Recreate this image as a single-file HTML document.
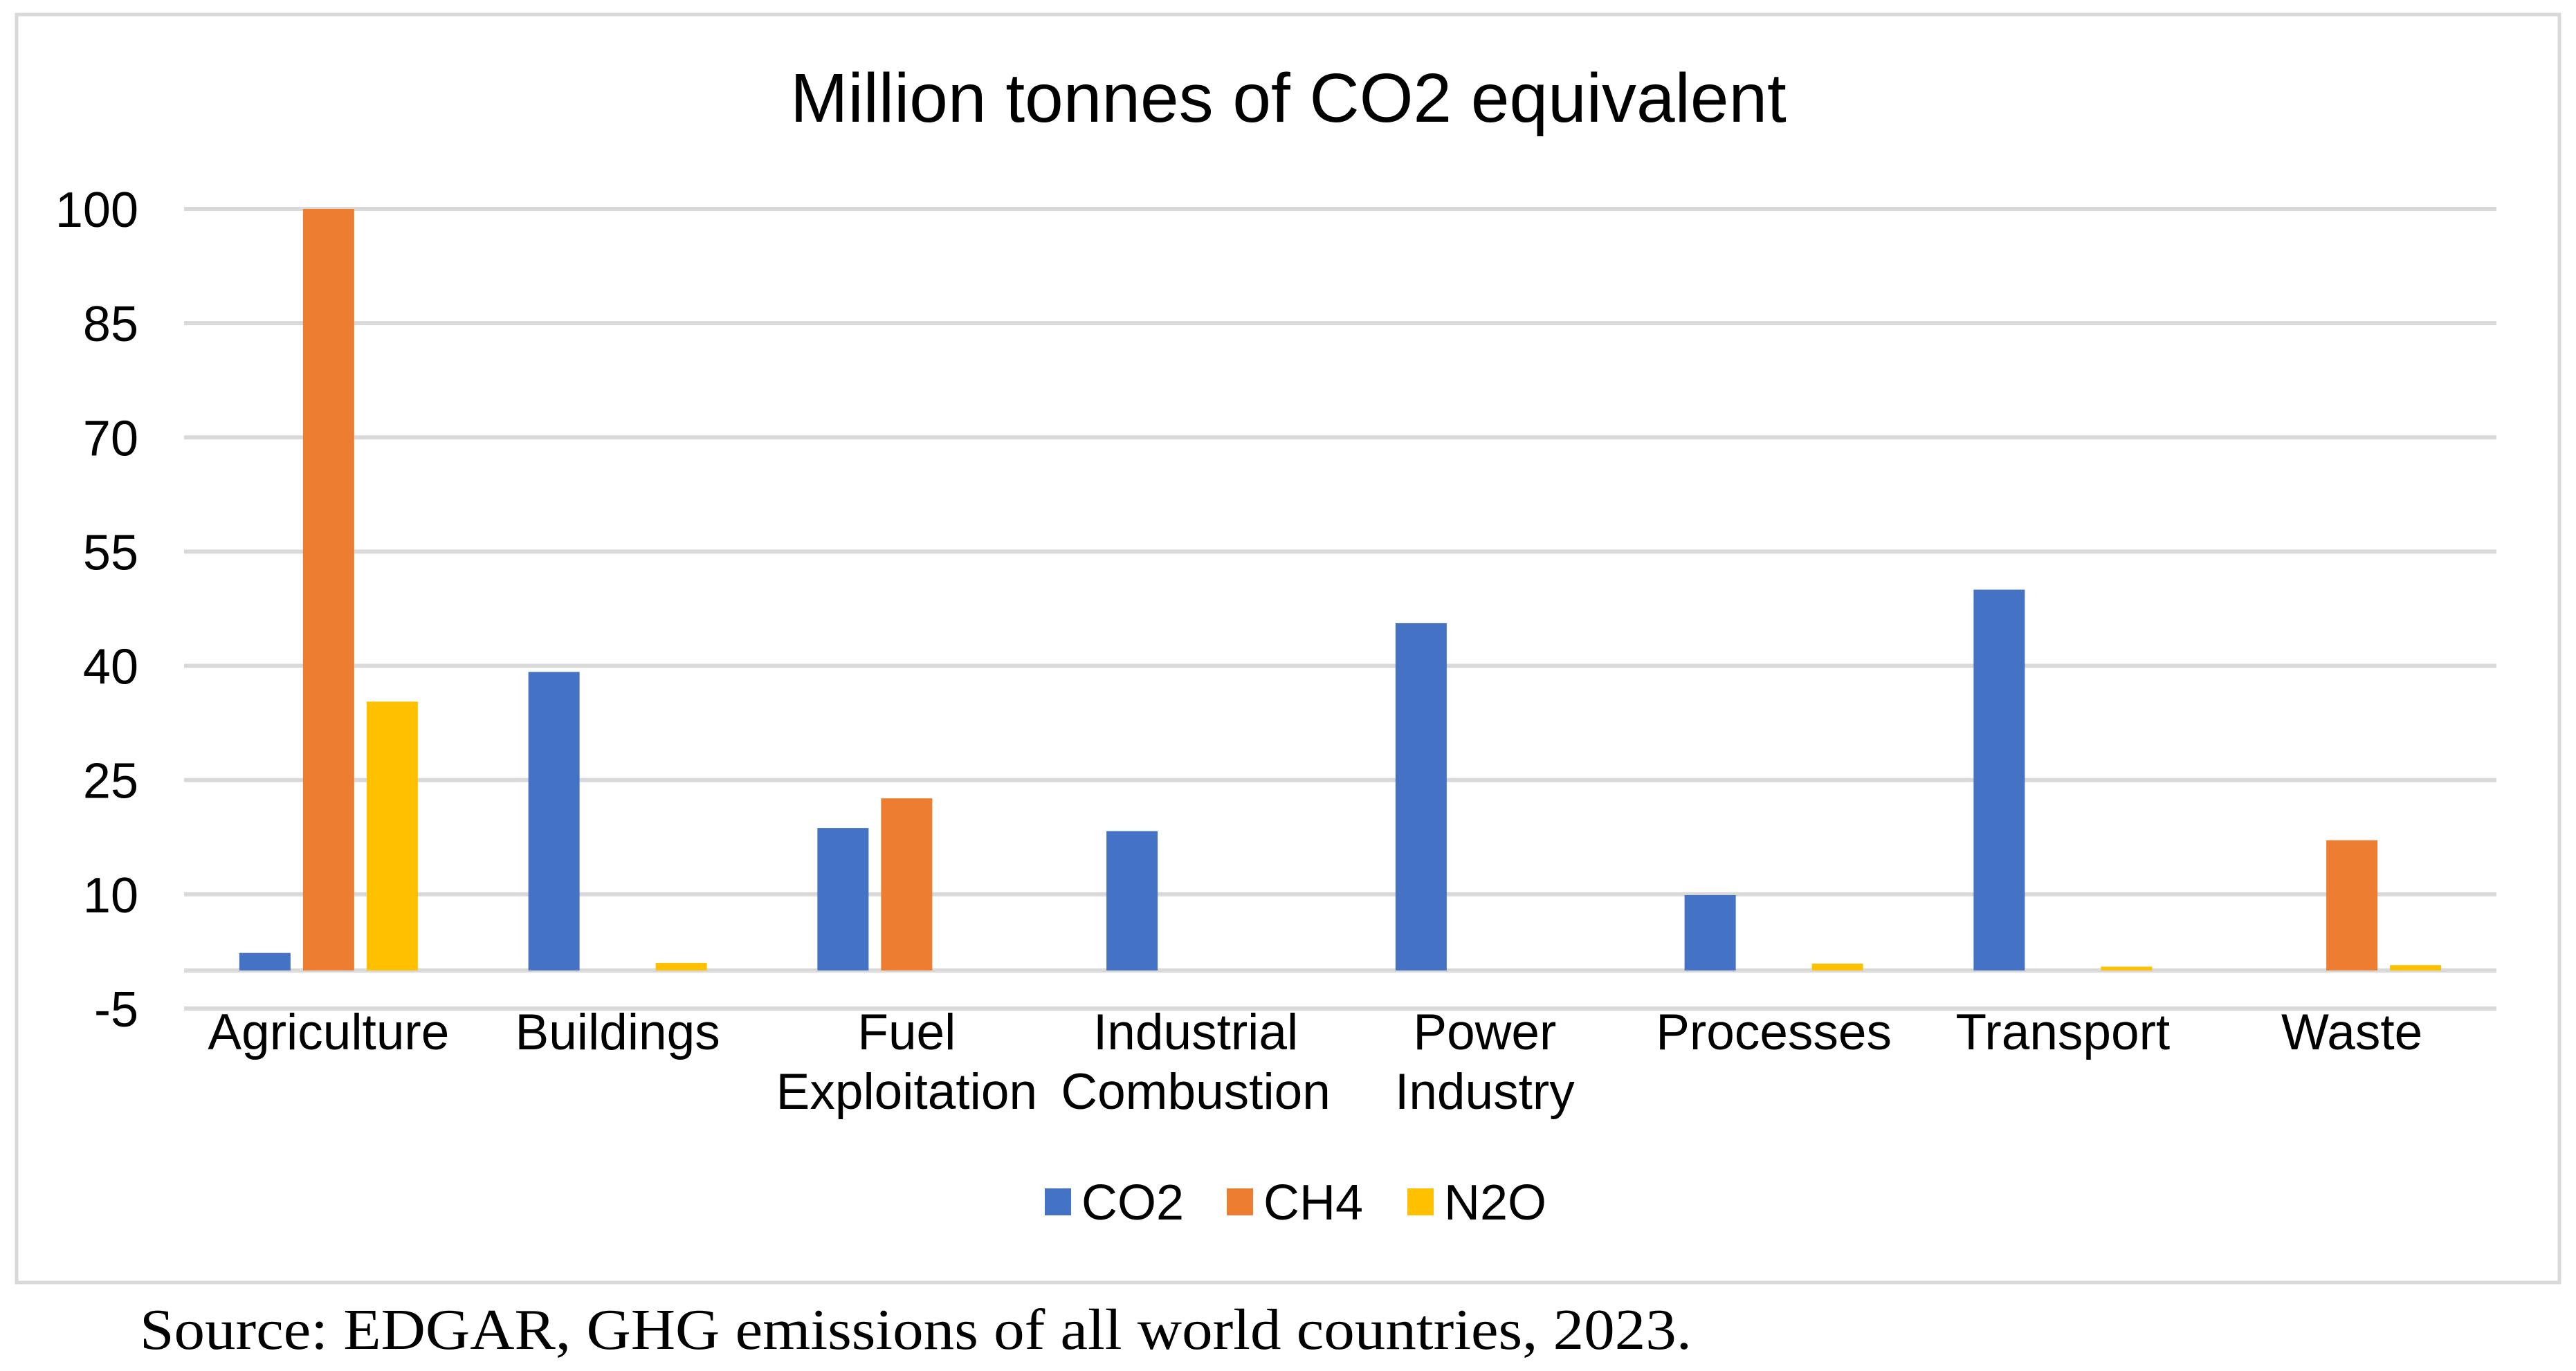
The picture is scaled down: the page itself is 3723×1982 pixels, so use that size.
<!DOCTYPE html>
<html><head><meta charset="utf-8"><style>
html,body{margin:0;padding:0;background:#fff;}
svg{display:block;}
</style></head><body>
<svg id="chart" width="3723" height="1982" viewBox="0 0 3723 1982" xmlns="http://www.w3.org/2000/svg">
<rect x="24" y="21" width="3675" height="1833" fill="#fff" stroke="#d9d9d9" stroke-width="5"/>
<text x="1862" y="176" font-family="Liberation Sans, sans-serif" font-size="100" text-anchor="middle" fill="#000">Million tonnes of CO2 equivalent</text>
<g id="grid"></g><g id="yticks"></g><g id="bars"></g><g id="xlabels"></g>
<g font-family="Liberation Sans, sans-serif" font-size="72" fill="#000">
<rect x="1510" y="1718" width="38" height="39" fill="#4472c4"/>
<text x="1563" y="1763">CO2</text>
<rect x="1773" y="1718" width="38" height="39" fill="#ed7d31"/>
<text x="1826" y="1763">CH4</text>
<rect x="2034" y="1718" width="38" height="39" fill="#ffc000"/>
<text x="2087" y="1763">N2O</text>
</g>
<text x="202" y="1950" font-family="Liberation Serif, serif" font-size="84" fill="#000" textLength="2243" lengthAdjust="spacingAndGlyphs">Source: EDGAR, GHG emissions of all world countries, 2023.</text>
</svg>
<script>
const categories = [["Agriculture"],["Buildings"],["Fuel","Exploitation"],["Industrial","Combustion"],["Power","Industry"],["Processes"],["Transport"],["Waste"]];
const co2 = [2.3, 39.2, 18.7, 18.3, 45.6, 9.9, 50.0, 0];
const ch4 = [100, 0, 22.6, 0, 0, 0, 0, 17.1];
const n2o = [35.3, 1.0, 0, 0, 0, 0.9, 0.5, 0.7];
const yTicks = [-5, 10, 25, 40, 55, 70, 85, 100];
const NS = "http://www.w3.org/2000/svg";
const plotL = 266, plotR = 3608, yTop = 302, yBot = 1458;
function y(v){ return yBot - (v - (-5)) / 105 * (yBot - yTop); }
const catW = (plotR - plotL) / categories.length;
function xc(i){ return plotL + catW * (i + 0.5); }
function mk(tag, attrs, parent){ const e = document.createElementNS(NS, tag); for (const k in attrs) e.setAttribute(k, attrs[k]); parent.appendChild(e); return e; }
const grid = document.getElementById('grid'), yt = document.getElementById('yticks');
yTicks.forEach(t => {
  const l = mk('rect', {x: plotL, y: y(t) - 3, width: plotR - plotL, height: 6, fill: '#d9d9d9'}, grid);
  
  
  const tx = mk('text', {x: 200, y: y(t) + 26, 'text-anchor': 'end', 'font-family': 'Liberation Sans, sans-serif', 'font-size': 72, fill: '#000'}, yt);
  tx.textContent = t;
  
  
});
const zl = mk('rect', {x: plotL, y: y(0) - 3, width: plotR - plotL, height: 6, fill: '#d9d9d9'}, grid);


const bars = document.getElementById('bars');
const series = [[co2, '#4472c4', 'co2'], [ch4, '#ed7d31', 'ch4'], [n2o, '#ffc000', 'n2o']];
const bw = 74, gap = 18;
categories.forEach((c, i) => {
  series.forEach((s, j) => {
    const v = s[0][i];
    if (v <= 0) return;
    const x0 = xc(i) + (j - 1) * (bw + gap) - bw / 2;
    const r = mk('rect', {x: x0, y: y(v), width: bw, height: y(0) - y(v), fill: s[1]}, bars);
    
    
  });
  const t = mk('text', {x: xc(i), y: 1517, 'text-anchor': 'middle', 'font-family': 'Liberation Sans, sans-serif', 'font-size': 73, fill: '#000'}, document.getElementById('xlabels'));
  
  
  c.forEach((line, k) => {
    const ts = mk('tspan', {x: xc(i), dy: k === 0 ? 0 : 86}, t);
    ts.textContent = line;
  });
});
</script>
</body></html>
